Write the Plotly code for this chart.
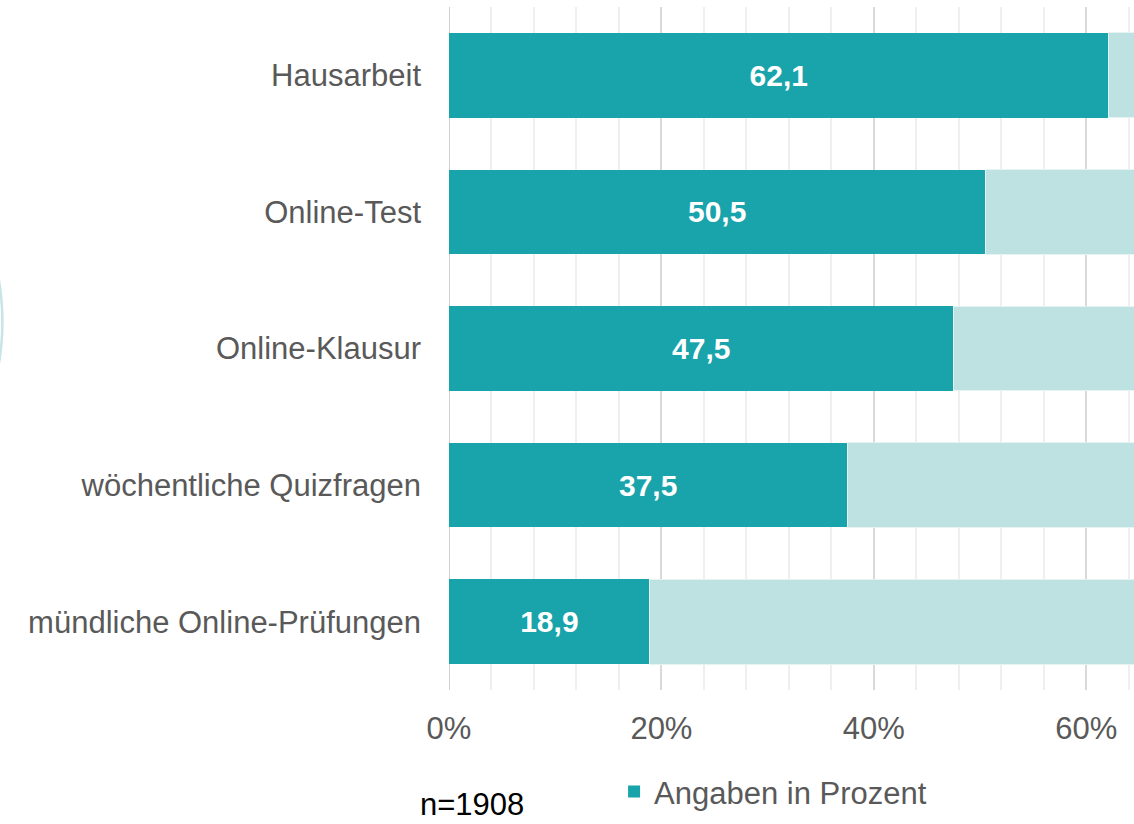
import plotly.graph_objects as go

categories = ["Hausarbeit", "Online-Test", "Online-Klausur", "wöchentliche Quizfragen", "mündliche Online-Prüfungen"]
values = [62.1, 50.5, 47.5, 37.5, 18.9]
rest = [round(100 - v, 1) for v in values]
labels = [f"{v:.1f}".replace(".", ",") for v in values]
tick_vals = [0, 20, 40, 60]
tick_text = ["0%", "20%", "40%", "60%"]

TEAL = "#19a3aa"
LIGHT = "#bee2e2"
GREY = "#595959"
FONT = "Liberation Sans, Arial, sans-serif"

fig = go.Figure()
fig.add_trace(go.Bar(
    y=categories, x=values, orientation="h", name="Angaben in Prozent",
    marker=dict(color=TEAL, line=dict(width=0)),
    text=labels, textposition="inside", insidetextanchor="middle",
    textfont=dict(family=FONT, size=30, color="white", weight="bold"),
    width=0.62, showlegend=True,
))
fig.add_trace(go.Bar(
    y=categories, x=rest, orientation="h", name="Rest",
    marker=dict(color=LIGHT, line=dict(width=1, color="#e6f3f3")),
    width=0.62, showlegend=False, hoverinfo="skip",
))

fig.update_layout(
    barmode="stack",
    width=1134, height=824,
    margin=dict(l=449, r=0, t=7, b=134),
    paper_bgcolor="white", plot_bgcolor="white",
    font=dict(family=FONT, size=31, color=GREY),
    xaxis=dict(
        range=[0, 64.5], tickvals=tick_vals, ticktext=tick_text,
        showgrid=True, gridcolor="#d9d9d9", gridwidth=2,
        minor=dict(dtick=4, showgrid=True, gridcolor="#efefef", gridwidth=1.5),
        zeroline=False, showline=False, ticks="",
        tickfont=dict(size=31, color=GREY), ticklabelstandoff=17,
        fixedrange=True,
    ),
    yaxis=dict(
        categoryorder="array", categoryarray=categories[::-1],
        showgrid=False, zeroline=False, ticks="",
        tickfont=dict(size=31, color=GREY), ticklabelstandoff=27,
        fixedrange=True,
    ),
    legend=dict(
        orientation="h", x=0.241, xanchor="left", y=-0.149, yanchor="middle",
        font=dict(size=31, color=GREY), bgcolor="rgba(0,0,0,0)",
    ),
    annotations=[dict(
        text="n=1908", xref="paper", yref="paper", x=0.034, y=-0.167,
        xanchor="center", yanchor="middle", showarrow=False, borderpad=0,
        font=dict(size=31, color="black", family=FONT),
    )],
    shapes=[
        dict(type="line", xref="x", yref="paper", x0=0, x1=0, y0=0, y1=1,
             line=dict(color="#d0d0d0", width=2), layer="below"),
        dict(type="circle", xref="paper", yref="paper",
             x0=-1.382, x1=-0.652, y0=0.173, y1=0.905,
             line=dict(color="#c5e5e6", width=2.5), layer="below"),
    ],
)

fig.write_html(
    "out.html",
    config={"displayModeBar": False},
    post_script="document.body.style.margin='0px';document.documentElement.style.overflow='hidden';",
)
